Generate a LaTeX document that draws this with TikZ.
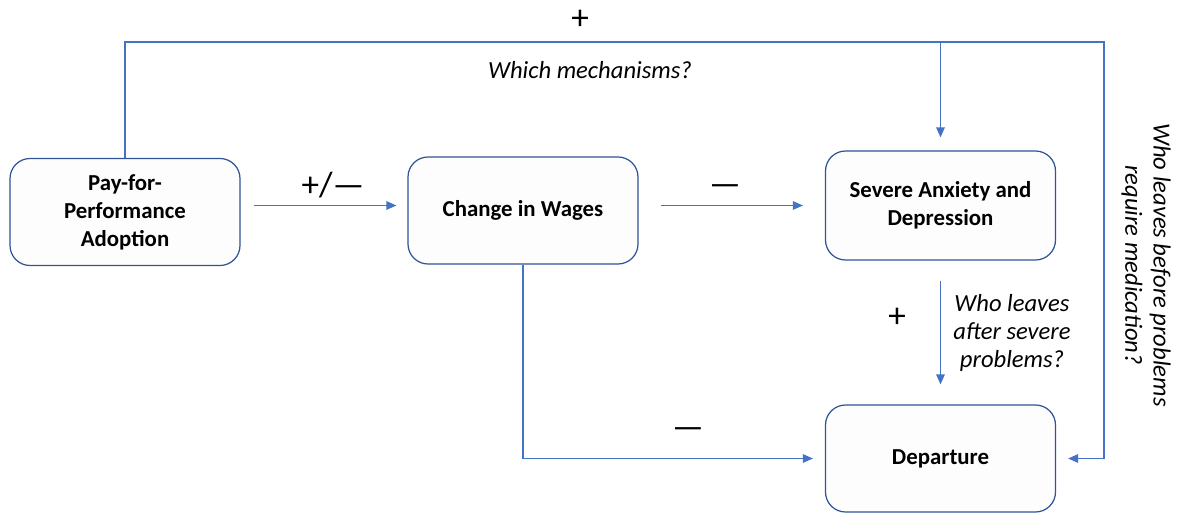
\documentclass[tikz,border=0pt]{standalone}
\usepackage{fontspec}
\setmainfont{Carlito}
\usepackage{tikz}
\usetikzlibrary{arrows.meta,positioning,calc}
\definecolor{linkblue}{RGB}{68,114,196}
\definecolor{boxblue}{RGB}{47,85,151}
\definecolor{boxfill}{RGB}{253,253,253}

\begin{document}
\begin{tikzpicture}[
  box/.style={draw=boxblue,fill=boxfill,rounded corners=0.4cm,minimum width=4.6cm,minimum height=2.14cm,
              font=\fontsize{13}{16}\selectfont\bfseries,align=center,inner sep=3pt,line width=0.7pt},
  arr/.style={-{Triangle[length=0.2cm,width=0.17cm]},line width=0.8pt,color=linkblue},
  lbl/.style={font=\fontsize{14}{16}\selectfont\itshape,align=center},
  sgn/.style={font=\fontsize{20}{24}\selectfont}
]
\useasboundingbox (0,0) rectangle (23.58,10.24);

\node[box] (p4p) at (2.5,6.0) {Pay-for-\\Performance\\Adoption};
\node[box] (wages) at (10.46,6.03) {Change in Wages};
\node[box,minimum height=2.18cm] (anx) at (18.81,6.13) {Severe Anxiety and\\Depression};
\node[box] (dep) at (18.81,1.07) {Departure};
\coordinate (tr) at (22.08,9.4);

\draw[arr,shorten <=0.26cm,shorten >=0.22cm] (p4p.east |- anx) -- (wages.west |- anx);
\draw[arr,shorten <=0.44cm,shorten >=0.44cm] (wages.east |- anx) -- (anx.west);
\draw[arr,shorten <=0.4cm,shorten >=0.4cm] (anx.south) -- (dep.north);
\draw[arr,shorten >=0.24cm] (wages.south) |- (dep.west);
\draw[arr,shorten >=0.24cm] (p4p.north) |- (tr) |- (dep.east);
\draw[arr,shorten >=0.26cm] (anx.north |- tr) -- (anx.north);

\node[sgn] (s1) at (6.66,6.54) {+/---};
\node[sgn] (s2) at (14.5,6.44) {---};
\node[sgn] (s3) at (11.6,9.84) {+};
\node[sgn] (s4) at (17.94,3.88) {+};
\node[sgn] (s5) at (13.76,1.58) {---};

\node[lbl] (q1) at (11.8,8.84) {Which mechanisms?};
\node[lbl] (q2) at (20.24,3.58) {Who leaves\\after severe\\problems?};
\node[lbl,rotate=-90] (q3) at (22.92,4.94) {Who leaves before problems\\require medication?};
\end{tikzpicture}
\end{document}
